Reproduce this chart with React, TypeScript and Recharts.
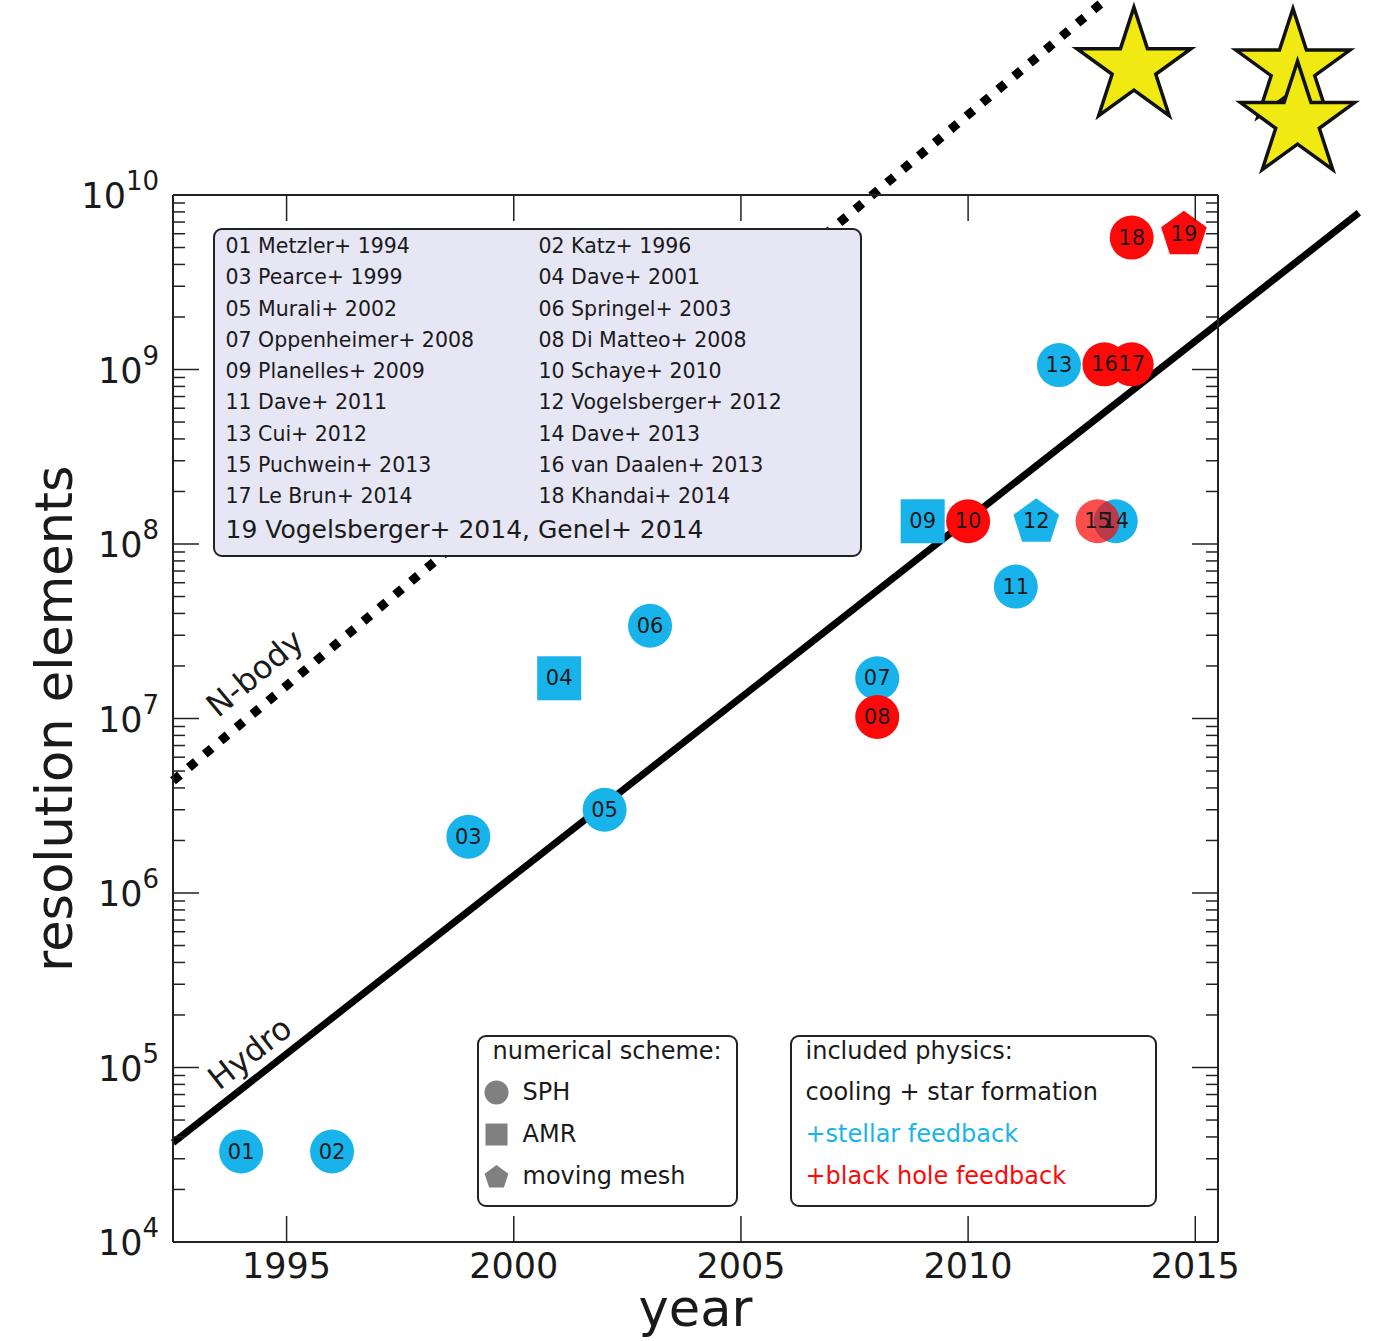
import React from "react";
import { ComposedChart, Scatter, XAxis, YAxis, ReferenceLine, ReferenceDot } from "recharts";

const FONT = "'DejaVu Sans', Verdana, sans-serif";
const CYAN = "#18b3ea";
const RED = "#fc0a0a";
const INK = "#1a1a1a";
const GRAY = "#808080";

// simulations, numbered as in the legend
const simLabels = ["01", "02", "03", "04", "05", "06", "07", "08", "09", "10", "11", "12", "13", "14", "15", "16", "17", "18", "19"];
const simYears = [1994.0, 1996.0, 1999.0, 2001.0, 2002.0, 2003.0, 2008.0, 2008.0, 2009.0, 2010.0, 2011.05, 2011.5, 2012.0, 2013.25, 2012.85, 2013.0, 2013.6, 2013.6, 2014.75];
const simElements = [3.3e4, 3.3e4, 2.1e6, 1.7e7, 3.0e6, 3.4e7, 1.7e7, 1.02e7, 1.35e8, 1.35e8, 5.7e7, 1.35e8, 1.06e9, 1.35e8, 1.35e8, 1.07e9, 1.07e9, 5.7e9, 6.0e9];
const simScheme = ["SPH", "SPH", "SPH", "AMR", "SPH", "SPH", "SPH", "SPH", "AMR", "SPH", "SPH", "mesh", "SPH", "SPH", "SPH", "SPH", "SPH", "SPH", "mesh"];
const simPhysics = ["stellar", "stellar", "stellar", "stellar", "stellar", "stellar", "stellar", "bh", "stellar", "bh", "stellar", "stellar", "stellar", "stellar", "bh", "bh", "bh", "bh", "bh"];
const simAlpha = [1, 1, 1, 1, 1, 1, 1, 1, 1, 1, 1, 1, 1, 1, 0.72, 1, 1, 1, 1];

// the stars above the frame
const starYears = [2013.65, 2017.15, 2017.25];
const starElements = [5.4e10, 5.3e10, 2.65e10];

// trend lines
const hydroYears = [1992.5, 2018.6];
const hydroElements = [3.7e4, 7.9e9];
const nbodyYears = [1992.5, 2013.0];
const nbodyElements = [4.4e6, 1.3e11];

const yearTicks = [1995, 2000, 2005, 2010, 2015];
const decadeTicks = [1e4, 1e5, 1e6, 1e7, 1e8, 1e9, 1e10];

const references = [
  "01 Metzler+ 1994", "02 Katz+ 1996",
  "03 Pearce+ 1999", "04 Dave+ 2001",
  "05 Murali+ 2002", "06 Springel+ 2003",
  "07 Oppenheimer+ 2008", "08 Di Matteo+ 2008",
  "09 Planelles+ 2009", "10 Schaye+ 2010",
  "11 Dave+ 2011", "12 Vogelsberger+ 2012",
  "13 Cui+ 2012", "14 Dave+ 2013",
  "15 Puchwein+ 2013", "16 van Daalen+ 2013",
  "17 Le Brun+ 2014", "18 Khandai+ 2014",
  "19 Vogelsberger+ 2014, Genel+ 2014",
];

const sims = simLabels.map((label, i) => ({
  label,
  year: simYears[i],
  elements: simElements[i],
  scheme: simScheme[i],
  physics: simPhysics[i],
  alpha: simAlpha[i],
}));

const elementTicks = decadeTicks.flatMap((d, i) =>
  i === decadeTicks.length - 1 ? [d] : [1, 2, 3, 4, 5, 6, 7, 8, 9].map((m) => m * d)
);

const frame = { stroke: "#222", strokeWidth: 2 };

const starPoints = (cx: number, cy: number, R: number) =>
  Array.from({ length: 10 }, (_, k) => {
    const a = ((-90 + k * 36) * Math.PI) / 180;
    const r = k % 2 === 0 ? R : R * 0.382;
    return `${cx + r * Math.cos(a)},${cy + r * Math.sin(a)}`;
  }).join(" ");

const pentagonPoints = (cx: number, cy: number, R: number) =>
  Array.from({ length: 5 }, (_, k) => {
    const a = ((-90 + k * 72) * Math.PI) / 180;
    return `${cx + R * Math.cos(a)},${cy + R * Math.sin(a)}`;
  }).join(" ");

const isDecade = (v: number) => {
  const e = Math.log10(v);
  return Math.abs(e - Math.round(e)) < 1e-6;
};

function LeftTick({ x, y, payload }: any) {
  const major = isDecade(payload.value);
  return (
    <g>
      <line x1={x} x2={x + (major ? 26 : 12)} y1={y} y2={y} stroke="#222" strokeWidth={1.5} />
      {major && (
        <text x={x - 14} y={y + 13} textAnchor="end" fill={INK} fontFamily={FONT}>
          <tspan fontSize={35}>10</tspan>
          <tspan fontSize={26} dy={-18}>{Math.round(Math.log10(payload.value))}</tspan>
        </text>
      )}
    </g>
  );
}

function RightTick({ x, y, payload }: any) {
  const major = isDecade(payload.value);
  return <line x1={x} x2={x - (major ? 26 : 12)} y1={y} y2={y} stroke="#222" strokeWidth={1.5} />;
}

function BottomTick({ x, y, payload }: any) {
  return (
    <g>
      <line x1={x} x2={x} y1={y} y2={y - 26} stroke="#222" strokeWidth={1.5} />
      <text x={x} y={y + 36} textAnchor="middle" fontSize={35} fontFamily={FONT} fill={INK}>
        {payload.value}
      </text>
    </g>
  );
}

function TopTick({ x, y }: any) {
  return <line x1={x} x2={x} y1={y} y2={y + 26} stroke="#222" strokeWidth={1.5} />;
}

function SimMarker(p: any) {
  const d = p.payload;
  const fill = d.physics === "bh" ? RED : CYAN;
  if (d.scheme === "AMR")
    return <rect x={p.cx - 22} y={p.cy - 22} width={44} height={44} fill={fill} fillOpacity={d.alpha} />;
  if (d.scheme === "mesh")
    return <polygon points={pentagonPoints(p.cx, p.cy + 1, 24)} fill={fill} fillOpacity={d.alpha} />;
  return <circle cx={p.cx} cy={p.cy} r={22} fill={fill} fillOpacity={d.alpha} />;
}

function SimLabel(p: any) {
  return (
    <text x={p.cx} y={p.cy + 7} textAnchor="middle" fontSize={21} fontFamily={FONT} fill={INK}>
      {p.payload.label}
    </text>
  );
}

const Star = (p: any) => (
  <polygon points={starPoints(p.cx, p.cy, 60)} fill="#f0ea12" stroke="#111" strokeWidth={3.5} strokeLinejoin="miter" />
);

const lineLabel = (text: string, angle: number) => (p: any) => (
  <text
    x={p.cx}
    y={p.cy}
    textAnchor="middle"
    dominantBaseline="central"
    fontSize={32}
    fontFamily={FONT}
    fill={INK}
    transform={`rotate(${angle}, ${p.cx}, ${p.cy})`}
  >
    {text}
  </text>
);

const boxStyle: React.CSSProperties = {
  position: "absolute",
  boxSizing: "border-box",
  border: "2.5px solid #222",
  borderRadius: 9,
  fontFamily: FONT,
  color: INK,
  whiteSpace: "nowrap",
};

function Row({ left, cy, size, children, color }: any) {
  return (
    <div style={{ position: "absolute", left, top: cy - size * 0.6, fontSize: size, lineHeight: `${size * 1.2}px`, color }}>
      {children}
    </div>
  );
}

export default function App() {
  const boxTop = 230.5;
  return (
    <div style={{ position: "absolute", left: 0, top: 0, width: 1380, height: 1341, background: "#fff" }}>
      <ComposedChart width={1380} height={1341} margin={{ top: 185, right: 152, bottom: 39, left: 93 }}>
        <XAxis
          xAxisId="b"
          type="number"
          dataKey="year"
          domain={[1992.5, 2015.5]}
          allowDataOverflow
          ticks={yearTicks}
          interval={0}
          height={60}
          tickSize={0}
          tickMargin={0}
          tickLine={false}
          axisLine={frame}
          tick={(p: any) => <BottomTick {...p} />}
          label={{
            content: (p: any) => (
              <text x={p.viewBox.x + p.viewBox.width / 2} y={p.viewBox.y + 84} textAnchor="middle" fontSize={51} fontFamily={FONT} fill={INK}>
                year
              </text>
            ),
          }}
        />
        <XAxis
          xAxisId="t"
          orientation="top"
          type="number"
          dataKey="year"
          domain={[1992.5, 2015.5]}
          allowDataOverflow
          ticks={yearTicks}
          interval={0}
          height={10}
          tickSize={0}
          tickMargin={0}
          tickLine={false}
          axisLine={frame}
          tick={(p: any) => <TopTick {...p} />}
        />
        <YAxis
          yAxisId="l"
          type="number"
          scale="log"
          dataKey="elements"
          domain={[1e4, 1e10]}
          allowDataOverflow
          ticks={elementTicks}
          interval={0}
          width={80}
          tickSize={0}
          tickMargin={0}
          tickLine={false}
          axisLine={frame}
          tick={(p: any) => <LeftTick {...p} />}
          label={{
            content: (p: any) => {
              const x = p.viewBox.x - 21;
              const y = p.viewBox.y + p.viewBox.height / 2;
              return (
                <text x={x} y={y} textAnchor="middle" fontSize={51} fontFamily={FONT} fill={INK} transform={`rotate(-90, ${x}, ${y})`}>
                  resolution elements
                </text>
              );
            },
          }}
        />
        <YAxis
          yAxisId="r"
          orientation="right"
          type="number"
          scale="log"
          dataKey="elements"
          domain={[1e4, 1e10]}
          allowDataOverflow
          ticks={elementTicks}
          interval={0}
          width={10}
          tickSize={0}
          tickMargin={0}
          tickLine={false}
          axisLine={frame}
          tick={(p: any) => <RightTick {...p} />}
        />

        <ReferenceLine
          xAxisId="b"
          yAxisId="l"
          ifOverflow="visible"
          segment={[
            { x: nbodyYears[0], y: nbodyElements[0] },
            { x: nbodyYears[1], y: nbodyElements[1] },
          ]}
          stroke="#000"
          strokeWidth={9}
          strokeDasharray="9 11.7"
        />
        <ReferenceLine
          xAxisId="b"
          yAxisId="l"
          ifOverflow="visible"
          segment={[
            { x: hydroYears[0], y: hydroElements[0] },
            { x: hydroYears[1], y: hydroElements[1] },
          ]}
          stroke="#000"
          strokeWidth={7}
        />
        <ReferenceDot xAxisId="b" yAxisId="l" x={1994.3} y={1.82e7} ifOverflow="visible" shape={lineLabel("N-body", -40)} />
        <ReferenceDot xAxisId="b" yAxisId="l" x={1994.19} y={1.21e5} ifOverflow="visible" shape={lineLabel("Hydro", -38)} />

        {starYears.map((yr, i) => (
          <ReferenceDot key={i} xAxisId="b" yAxisId="l" x={yr} y={starElements[i]} ifOverflow="visible" shape={Star} />
        ))}

        <Scatter xAxisId="b" yAxisId="l" data={sims} shape={SimMarker} isAnimationActive={false} />
        <Scatter xAxisId="b" yAxisId="l" data={sims} shape={SimLabel} isAnimationActive={false} />
      </ComposedChart>

      {/* reference list */}
      <div style={{ ...boxStyle, left: 213, top: 228, width: 649, height: 329, background: "#e6e6f5" }}>
        {references.slice(0, 18).map((r, i) => (
          <Row key={r} left={i % 2 === 0 ? 10.5 : 323.5} cy={247 + 31.25 * Math.floor(i / 2) - boxTop} size={20.5}>
            {r}
          </Row>
        ))}
        <Row left={10.5} cy={530 - boxTop} size={25}>
          {references[18]}
        </Row>
      </div>

      {/* numerical scheme */}
      <div style={{ ...boxStyle, left: 477, top: 1035, width: 261, height: 172, background: "#fff" }}>
        <Row left={13.5} cy={1052 - 1037.5} size={24}>numerical scheme:</Row>
        <svg style={{ position: "absolute", left: 0, top: 0 }} width={40} height={170}>
          <circle cx={17.5} cy={1093 - 1037.5} r={12} fill={GRAY} />
          <rect x={6.5} y={1135 - 1037.5 - 11} width={22} height={22} fill={GRAY} />
          <polygon points={pentagonPoints(17.5, 1177 - 1037.5 + 1, 12.5)} fill={GRAY} />
        </svg>
        <Row left={43.5} cy={1093 - 1037.5} size={24}>SPH</Row>
        <Row left={43.5} cy={1135 - 1037.5} size={24}>AMR</Row>
        <Row left={43.5} cy={1177 - 1037.5} size={24}>moving mesh</Row>
      </div>

      {/* included physics */}
      <div style={{ ...boxStyle, left: 790, top: 1035, width: 367, height: 172, background: "#fff" }}>
        <Row left={13.5} cy={1052 - 1037.5} size={24}>included physics:</Row>
        <Row left={13.5} cy={1093 - 1037.5} size={24}>cooling + star formation</Row>
        <Row left={13.5} cy={1135 - 1037.5} size={24} color={CYAN}>+stellar feedback</Row>
        <Row left={13.5} cy={1177 - 1037.5} size={24} color={RED}>+black hole feedback</Row>
      </div>
    </div>
  );
}
